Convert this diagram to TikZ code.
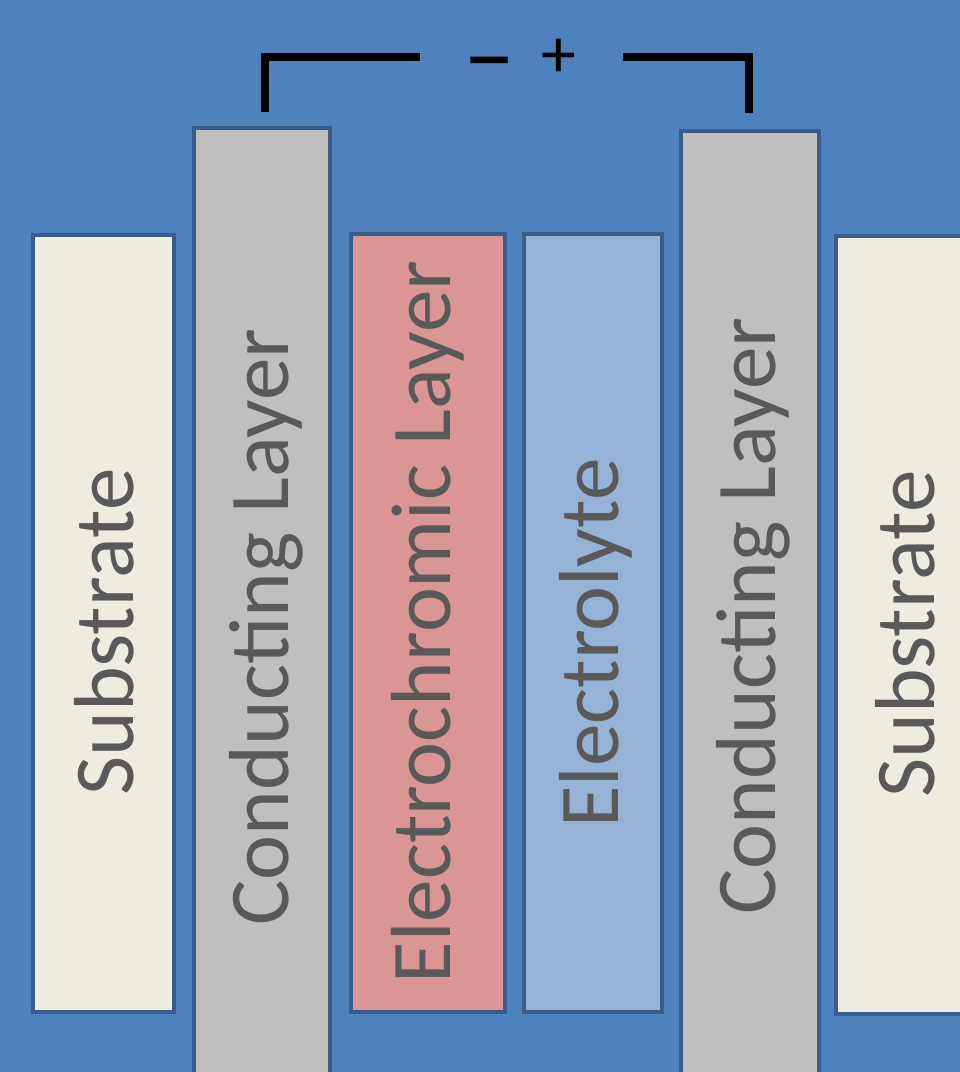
\documentclass[tikz,border=0pt]{standalone}
\usepackage{fontspec}
\setmainfont{Carlito}
\definecolor{bgblue}{HTML}{4F81BD}
\definecolor{edgeblue}{HTML}{385D8A}
\definecolor{subst}{HTML}{EEECE1}
\definecolor{cond}{HTML}{BFBFBF}
\definecolor{echrom}{HTML}{D99694}
\definecolor{elyte}{HTML}{95B3D7}
\definecolor{txtgray}{HTML}{595959}
\begin{document}
\begin{tikzpicture}[x=1bp,y=-1bp,
  layer/.style={draw=edgeblue,line width=4.5bp,inner sep=0pt},
  lbl/.style={rotate=90,text=txtgray,inner sep=0pt,font=\fontsize{85.5}{95}\selectfont},
  wire/.style={line width=8bp,black},
  sign/.style={inner sep=0pt,anchor=base,text=black,font=\fontsize{70}{80}\selectfont}]
\fill[bgblue] (0,0) rectangle (960,1072);
\useasboundingbox (0,0) rectangle (960,1072);
% layers
\draw[layer,fill=subst] (33,235) rectangle (174,1012);
\draw[layer,fill=cond] (194,128) rectangle (330,1090);
\draw[layer,fill=echrom] (351,234) rectangle (505,1012);
\draw[layer,fill=elyte] (524,234) rectangle (662,1012);
\draw[layer,fill=cond] (681,131) rectangle (819,1090);
\draw[layer,fill=subst] (836,236) rectangle (975,1014);
% labels
\node[lbl] (s1) at (104,632) {Substrate};
\node[lbl] (c1) at (266,627) {Conducting Layer};
\node[lbl] (ec) at (428,622) {Electrochromic Layer};
\node[lbl] (el) at (596,643) {Electrolyte};
\node[lbl] (c2) at (753,616) {Conducting Layer};
\node[lbl] (s2) at (905,634) {Substrate};
% wires
\coordinate (lt) at (265,112);
\coordinate (lc) at (265,57);
\coordinate (le) at (420,57);
\coordinate (rt) at (749,113);
\coordinate (rc) at (749,57);
\coordinate (re) at (623,57);
\draw[wire] (lt) -- (lc) -- (le);
\draw[wire] (rt) -- (rc) -- (re);
\node[sign,font=\fontsize{105}{110}\selectfont] (minus) at (490,89) {–};
\node[sign] (plus) at (559,77) {+};
\end{tikzpicture}
\end{document}
